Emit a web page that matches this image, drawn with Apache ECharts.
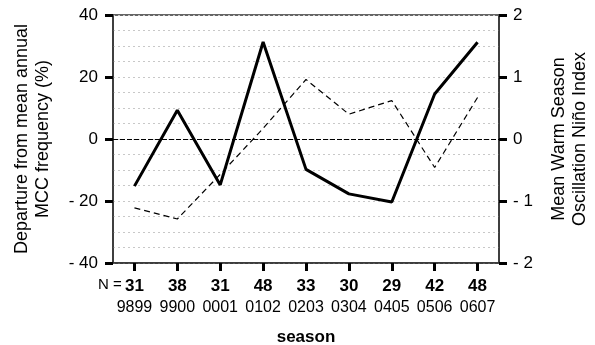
<!DOCTYPE html>
<html><head><meta charset="utf-8">
<script src="https://cdn.jsdelivr.net/npm/echarts@6/dist/echarts.min.js"></script>
<style>html,body{margin:0;padding:0;background:#fff}#c{width:595px;height:345px}</style>
</head><body><div id="c"></div>
<script>
var seasons = ['9899','9900','0001','0102','0203','0304','0405','0506','0607'];
var nCounts = [31,38,31,48,33,30,29,42,48];
var mccDeparture = [-15.2, 9.3, -14.8, 31.3, -9.8, -17.7, -20.3, 14.5, 31.2];
var ensoIndex = [-1.11, -1.29, -0.57, 0.17, 0.96, 0.40, 0.62, -0.46, 0.67];
var leftTicks = [-40, 40, 20];
var rightTicks = [-2, 2, 1];
var FONT = '"Liberation Sans", Arial, sans-serif';
function neg(v){ return v < 0 ? '- ' + Math.abs(v) : String(v); }
var chart = echarts.init(document.getElementById('c'), null, {renderer:'canvas'});
chart.setOption({
  animation:false,
  textStyle:{fontFamily:FONT},
  grid:{left:113,right:96,top:15,bottom:82,containLabel:false,outerBoundsMode:'none',show:true,borderColor:'#333',borderWidth:1.5,backgroundColor:'transparent'},
  xAxis:{
    type:'category', data:seasons, boundaryGap:true,
    name:'season', nameLocation:'middle', nameGap:66,
    nameTextStyle:{fontSize:17,fontWeight:'bold',color:'#000',fontFamily:FONT},
    axisLine:{show:true,onZero:false,lineStyle:{color:'#333',width:1.5}},
    axisTick:{show:true,alignWithLabel:true,interval:0,length:8,lineStyle:{color:'#000',width:3}},
    axisLabel:{margin:13,interval:0,color:'#000',fontFamily:FONT,
      formatter:function(v,i){ return '{n|' + nCounts[i] + '}\n{y|' + v + '}'; },
      rich:{n:{fontSize:17,fontWeight:'bold',color:'#000',fontFamily:FONT,lineHeight:21},
            y:{fontSize:16,color:'#000',fontFamily:FONT,lineHeight:21}}},
    splitLine:{show:false}
  },
  yAxis:[{
    type:'value', min:leftTicks[0], max:leftTicks[1], interval:leftTicks[2],
    name:'Departure from mean annual\nMCC frequency (%)', nameLocation:'middle', nameRotate:90, nameGap:59,
    nameTextStyle:{fontSize:18,color:'#000',fontFamily:FONT,lineHeight:21},
    axisLine:{show:true,lineStyle:{color:'#333',width:1.5}},
    axisTick:{show:true,length:8,lineStyle:{color:'#000',width:3}},
    axisLabel:{margin:15,fontSize:17,color:'#000',fontFamily:FONT,formatter:neg},
    splitLine:{show:true,lineStyle:{color:'#c8c8c8',type:[2,3],width:1}},
    minorTick:{show:false,splitNumber:4},
    minorSplitLine:{show:true,lineStyle:{color:'#c8c8c8',type:[2,3],width:1}}
  },{
    type:'value', min:rightTicks[0], max:rightTicks[1], interval:rightTicks[2],
    name:'Mean Warm Season\nOscillation Niño Index', nameLocation:'middle', nameRotate:90, nameGap:50,
    nameTextStyle:{fontSize:18,color:'#000',fontFamily:FONT,lineHeight:21},
    axisLine:{show:true,lineStyle:{color:'#333',width:1.5}},
    axisTick:{show:true,length:8,lineStyle:{color:'#000',width:3}},
    axisLabel:{margin:14,fontSize:17,color:'#000',fontFamily:FONT,formatter:neg},
    splitLine:{show:false}
  }],
  graphic:[{type:'text',left:98,top:277,style:{text:'N =',font:'15px '+FONT,fill:'#000'}}],
  series:[{
    type:'line', yAxisIndex:0, data:mccDeparture, symbol:'none',
    lineStyle:{color:'#000',width:3}, z:5,
    markLine:{silent:true,symbol:'none',label:{show:false},
      lineStyle:{color:'#000',type:[5,2],width:1},data:[{yAxis:0}]}
  },{
    type:'line', yAxisIndex:1, data:ensoIndex, symbol:'none',
    lineStyle:{color:'#000',width:1.2,type:[6,4]}, z:4
  }]
});
</script></body></html>
